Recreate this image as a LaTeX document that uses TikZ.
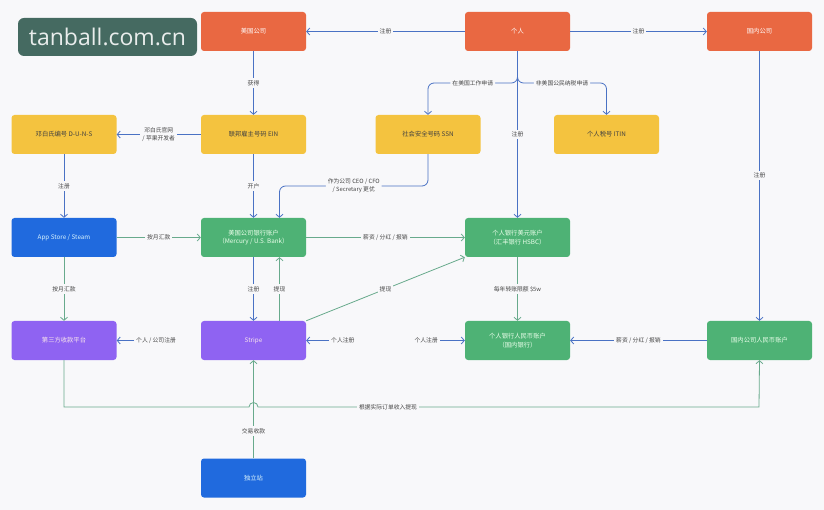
\documentclass[tikz,border=0pt]{standalone}
\usepackage{fontspec}
\setmainfont{Noto Sans CJK SC}
\newfontfamily\wmfont{Open Sans}
\usetikzlibrary{arrows.meta}
\definecolor{bgc}{RGB}{248,248,250}
\definecolor{cOrange}{RGB}{233,104,66}
\definecolor{cYellow}{RGB}{244,195,63}
\definecolor{cBlue}{RGB}{32,106,222}
\definecolor{cGreen}{RGB}{78,178,117}
\definecolor{cPurple}{RGB}{143,99,242}
\definecolor{lBlue}{RGB}{74,114,196}
\definecolor{lGreen}{RGB}{104,170,140}
\definecolor{wmc}{RGB}{69,106,97}
\definecolor{lbltext}{RGB}{70,70,70}
\begin{document}
\begin{tikzpicture}[x=1pt,y=-1pt,
  box/.style={rounded corners=3pt, minimum width=105pt, minimum height=39pt, inner sep=0pt,
    font=\fontsize{6.3}{8.5}\selectfont, align=center, text=white},
  orangebox/.style={box, fill=cOrange},
  yellowbox/.style={box, fill=cYellow, text=black!75},
  bluebox/.style={box, fill=cBlue, text=white!85!cyan},
  greenbox/.style={box, fill=cGreen, text=white!92!green},
  purplebox/.style={box, fill=cPurple, text=white!90!purple},
  lbl/.style={fill=bgc, font=\fontsize{5.8}{7.5}\selectfont, text=lbltext, inner sep=2pt, align=center},
  bl/.style={draw=lBlue, line width=0.8pt, -{Straight Barb[length=3pt,width=7pt]}},
  gl/.style={draw=lGreen, line width=0.8pt, -{Straight Barb[length=3pt,width=7pt]}}]
\fill[bgc] (0,0) rectangle (824,510);
\useasboundingbox (0,0) rectangle (824,510);

% watermark
\node[fill=wmc, rounded corners=6pt, minimum width=179pt, minimum height=38pt, inner sep=0pt,
  text=white!88!wmc, font=\wmfont\fontsize{23}{23}\selectfont] (wm) at (107.5,37) {tanball.com.cn};

% nodes
\node[orangebox] (usco) at (253.5,31.5) {美国公司};
\node[orangebox] (person) at (517.5,31.5) {个人};
\node[orangebox] (cnco) at (759.5,31.5) {国内公司};
\node[yellowbox] (duns) at (64,134.5) {邓白氏编号 D-U-N-S};
\node[yellowbox] (ein) at (253.5,134.5) {联邦雇主号码 EIN};
\node[yellowbox] (ssn) at (428,134.5) {社会安全号码 SSN};
\node[yellowbox] (itin) at (606.5,134.5) {个人税号 ITIN};
\node[bluebox] (appstore) at (64,237.5) {App Store / Steam};
\node[greenbox] (usbank) at (253.5,237.5) {美国公司银行账户\\（Mercury / U.S. Bank）};
\node[greenbox] (usdacct) at (517.5,237.5) {个人银行美元账户\\（汇丰银行 HSBC）};
\node[purplebox] (thirdp) at (64,340.5) {第三方收款平台};
\node[purplebox] (stripe) at (253.5,340.5) {Stripe};
\node[greenbox] (rmbacct) at (517.5,340.5) {个人银行人民币账户\\（国内银行）};
\node[greenbox] (cnacct) at (759.5,340.5) {国内公司人民币账户};
\node[bluebox] (indep) at (253.5,478) {独立站};

\coordinate (split) at (517.5,83);

% top connectors
\draw[bl] (person) -- node[lbl]{注册} (usco);
\draw[bl] (person) -- node[lbl]{注册} (cnco);
\draw[bl] (usco) -- node[lbl]{获得} (ein);
\draw[bl] (ein) -- node[lbl]{邓白氏官网\\/ 苹果开发者} (duns);
\draw[bl] (duns) -- node[lbl]{注册} (appstore);
\draw[bl] (ein) -- node[lbl]{开户} (usbank);
\draw[bl, rounded corners=6pt] (person.south) -- (split) -| node[lbl, pos=0.25]{在美国工作申请} (ssn.north);
\draw[bl, rounded corners=6pt] (person.south) -- (split) -| node[lbl, pos=0.25]{非美国公民纳税申请} (itin.north);
\draw[bl] (person) -- node[lbl]{注册} (usdacct);
\draw[bl] (cnco) -- node[lbl, pos=0.46]{注册} (cnacct);
\draw[bl, rounded corners=6pt] (ssn.south) -- (428,186) -| node[lbl, pos=0.25]{作为公司 CEO / CFO\\/ Secretary 更优} ([xshift=26pt]usbank.north);

% middle connectors
\draw[gl] (appstore) -- node[lbl]{按月汇款} (usbank);
\draw[gl] (usbank) -- node[lbl]{薪资 / 分红 / 报销} (usdacct);
\draw[gl] (appstore) -- node[lbl]{按月汇款} (thirdp);
\draw[bl] (usbank) -- node[lbl]{注册} (stripe);
\draw[gl] ([xshift=26pt]stripe.north) -- node[lbl]{提现} ([xshift=26pt]usbank.south);
\draw[gl] (stripe.north east) -- node[lbl]{提现} (usdacct.south west);
\draw[gl] (usdacct) -- node[lbl]{每年转账限额 \$5w} (rmbacct);

% lower connectors
\node[lbl, anchor=west] (r1) at (134,340.5) {个人 / 公司注册};
\draw[bl] (r1) -- (thirdp);
\node[lbl, anchor=west] (r2) at (329,340.5) {个人注册};
\draw[bl] (r2) -- (stripe);
\node[lbl, anchor=east] (r3) at (440,340.5) {个人注册};
\draw[bl] (r3) -- (rmbacct);
\draw[bl] (cnacct) -- node[lbl]{薪资 / 分红 / 报销} (rmbacct);

\draw[gl] (indep) -- node[lbl, pos=0.28]{交易收款} (stripe);
\draw[gl] (thirdp.south) -- (64,407) -- (249,407) arc[start angle=180, end angle=360, radius=4.5] -- (759,407) -- (cnacct.south);
\node[lbl] (lab) at (388,407) {根据实际订单收入提现};
\end{tikzpicture}
\end{document}
